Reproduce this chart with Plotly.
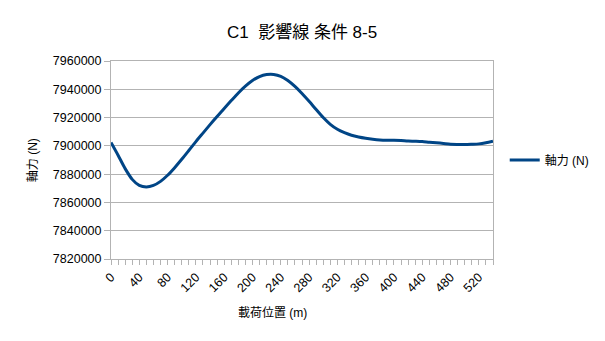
import plotly.graph_objects as go

positions = list(range(0, 550, 10))
axial_force = [
    7902400, 7893400, 7883900, 7876300, 7872000, 7870900, 7872000, 7874900, 7879200, 7884600,
    7890500, 7896700, 7903000, 7909000, 7915000, 7920800, 7926500, 7932000, 7937400, 7942200,
    7946200, 7949000, 7950400, 7950500, 7949200, 7946200, 7942000, 7937000, 7931500, 7925700,
    7920000, 7915200, 7911700, 7909300, 7907500, 7906300, 7905400, 7904700, 7904200, 7904000,
    7904000, 7903800, 7903400, 7903300, 7903100, 7902600, 7902200, 7901700, 7901200, 7901000,
    7900900, 7901100, 7901400, 7902200, 7903300,
]
series_name = "軸力 (N)"
title_text = "C1  影響線 条件 8-5"
x_title = "載荷位置 (m)"
y_title = "軸力 (N)"

FONT = "Liberation Sans, Noto Sans CJK JP, sans-serif"
GRID = "#b3b3b3"

fig = go.Figure()
fig.add_trace(go.Scatter(
    x=positions, y=axial_force, mode="lines", name=series_name,
    line=dict(color="#004586", width=3, shape="spline", smoothing=0.8),
))

L, R, T, B = 111, 111, 61, 82
fig.update_layout(
    width=605, height=341,
    margin=dict(l=L, r=R, t=T, b=B),
    paper_bgcolor="white", plot_bgcolor="white",
    font=dict(family=FONT, size=12, color="#000000"),
    showlegend=True,
    legend=dict(x=1.028, y=0.5, xanchor="left", yanchor="middle",
                font=dict(size=12), itemwidth=30, bgcolor="rgba(0,0,0,0)"),
    xaxis=dict(
        range=[0, 540], tick0=0, dtick=40, tickangle=-45,
        ticks="outside", ticklen=5, tickcolor=GRID,
        minor=dict(dtick=10, ticks="outside", ticklen=5, tickcolor=GRID, showgrid=False),
        showgrid=False, showline=True, linecolor=GRID, mirror=True, zeroline=False,
        tickfont=dict(size=12.5),
    ),
    yaxis=dict(
        range=[7820000, 7960000], dtick=20000, tickformat="d",
        ticks="outside", ticklen=6, tickcolor=GRID,
        showgrid=True, gridcolor=GRID, gridwidth=1,
        showline=True, linecolor=GRID, mirror=True, zeroline=False,
        tickfont=dict(size=12.5),
    ),
    annotations=[
        dict(text=title_text, xref="paper", yref="paper", x=0.5,
             y=1 + (T - 32) / (341 - T - B), xanchor="center", yanchor="middle",
             showarrow=False, font=dict(size=17)),
        dict(text=x_title, xref="paper", yref="paper",
             x=(273 - L) / (605 - L - R), y=-(313 - (341 - B)) / (341 - T - B),
             xanchor="center", yanchor="middle", showarrow=False, font=dict(size=12)),
        dict(text=y_title, xref="paper", yref="paper", textangle=-90,
             x=-(L - 33) / (605 - L - R), y=0.5,
             xanchor="center", yanchor="middle", showarrow=False, font=dict(size=12)),
    ],
)

fig.write_html("out.html")
